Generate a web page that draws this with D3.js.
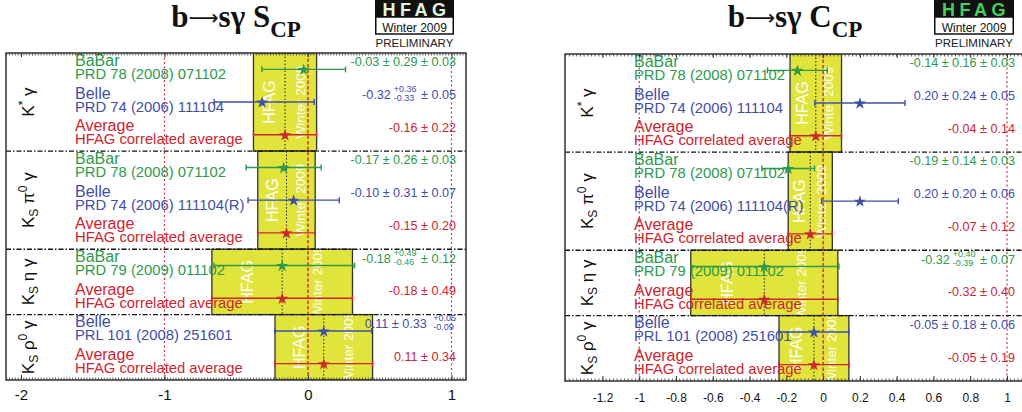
<!DOCTYPE html>
<html>
<head>
<meta charset="utf-8">
<script src="https://cdn.jsdelivr.net/npm/d3@7"></script>
<style>
  body { margin: 0; background: #fff; }
  svg { display: block; }
  text { font-family: "Liberation Sans", Arial, Helvetica, sans-serif; }
</style>
</head>
<body>
<svg id="chart" width="1022" height="412"></svg>
<script>
// ---- decay modes (rows) -------------------------------------------------
// each label is a list of [text, position] pieces: "" normal, "sup", "sub"
const modeParts = [
  [["K", ""], ["*", "sup"], [" γ", ""]],
  [["K", ""], ["S", "sub"], [" π", ""], ["0", "sup"], [" γ", ""]],
  [["K", ""], ["S", "sub"], [" η γ", ""]],
  [["K", ""], ["S", "sub"], [" ρ", ""], ["0", "sup"], [" γ", ""]]
];

// ---- measurements (one per line, top to bottom) --------------------------
const entryMode  = [0, 0, 0, 1, 1, 1, 2, 2, 3, 3];
const entryGroup = ["BaBar", "Belle", "Average", "BaBar", "Belle", "Average",
                    "BaBar", "Average", "Belle", "Average"];
const entryRef   = ["PRD 78 (2008) 071102", "PRD 74 (2006) 111104", "HFAG correlated average",
                    "PRD 78 (2008) 071102", "PRD 74 (2006) 111104(R)", "HFAG correlated average",
                    "PRD 79 (2009) 011102", "HFAG correlated average",
                    "PRL 101 (2008) 251601", "HFAG correlated average"];

// S_CP
const sCentral = [-0.03, -0.32, -0.16, -0.17, -0.10, -0.15, -0.18, -0.18, 0.11, 0.11];
const sStatUp  = [0.29, 0.36, 0.22, 0.26, 0.31, 0.20, 0.49, 0.49, 0.33, 0.34];
const sStatDn  = [0.29, 0.33, 0.22, 0.26, 0.31, 0.20, 0.46, 0.49, 0.33, 0.34];
const sSystUp  = [0.03, 0.05, null, 0.03, 0.07, null, 0.12, null, 0.05, null];
const sSystDn  = [0.03, 0.05, null, 0.03, 0.07, null, 0.12, null, 0.09, null];

// C_CP
const cCentral = [-0.14, 0.20, -0.04, -0.19, 0.20, -0.07, -0.32, -0.32, -0.05, -0.05];
const cStatUp  = [0.16, 0.24, 0.14, 0.14, 0.20, 0.12, 0.40, 0.40, 0.18, 0.19];
const cStatDn  = [0.16, 0.24, 0.14, 0.14, 0.20, 0.12, 0.39, 0.40, 0.18, 0.19];
const cSystUp  = [0.03, 0.05, null, 0.03, 0.06, null, 0.07, null, 0.06, null];
const cSystDn  = [0.03, 0.05, null, 0.03, 0.06, null, 0.07, null, 0.06, null];

// axis ticks
const sTicks = [-2, -1, 0, 1];
const cTicks = [-1.2, -1, -0.8, -0.6, -0.4, -0.2, 0, 0.2, 0.4, 0.6, 0.8, 1];
const refLines = [-1, 0, 1];

const groupColor = { BaBar: "#2c9a4c", Belle: "#3f4ea8", Average: "#cc2630" };
const boxFill = "#e1e43a";

const svg = d3.select("#chart");

const panels = [
  { key: "s", sym: "S", central: sCentral, statUp: sStatUp, statDn: sStatDn, systUp: sSystUp, systDn: sSystDn,
    frame: [6, 466], rows: [53, 380], x: d3.scaleLinear().domain([-2, 1]).range([21, 451.5]),
    ticks: sTicks, tickFont: 15, tickPad: 9.4, titleX: 236, logo: [375, 454], logoInk: "#e4f6e0" },
  { key: "c", sym: "C", central: cCentral, statUp: cStatUp, statDn: cStatDn, systUp: cSystUp, systDn: cSystDn,
    frame: [565, 1025], rows: [54, 381], x: d3.scaleLinear().domain([-1.2, 1]).range([602.5, 1007]),
    ticks: cTicks, tickFont: 12, tickPad: 12.5, titleX: 795, logo: [934, 1014], logoInk: "#46cf5c" }
];

const fmt = v => v.toFixed(2);
const quad = (a, b) => Math.sqrt(a * a + (b || 0) * (b || 0));

function drawTitle(p) {
  const t = svg.append("text")
    .attr("x", p.titleX).attr("y", 27)
    .attr("text-anchor", "middle")
    .style("font-family", "'Liberation Serif', 'Times New Roman', serif")
    .style("font-weight", "bold").style("font-size", "31px").attr("fill", "#111");
  t.append("tspan").text("b");
  t.append("tspan").style("font-family", "'DejaVu Sans', sans-serif").style("font-weight", "normal")
    .style("font-size", "21px").attr("dy", -2).text("⟶");
  t.append("tspan").attr("dy", 2).text("sγ " + p.sym);
  t.append("tspan").attr("dy", 10).style("font-size", "23px").text("CP");
}

function drawLogo(p) {
  const [x0, x1] = p.logo, w = x1 - x0;
  const g = svg.append("g");
  g.append("rect").attr("x", x0).attr("y", 0).attr("width", w).attr("height", 18).attr("fill", "#111");
  g.append("rect").attr("x", x0 + 0.75).attr("y", 17).attr("width", w - 1.5).attr("height", 17)
    .attr("fill", "#fff").attr("stroke", "#111").attr("stroke-width", 1.5);
  g.append("text").attr("x", x0 + w / 2 + 2).attr("y", 16)
    .attr("text-anchor", "middle").style("font-weight", "bold").style("font-size", "18px")
    .style("letter-spacing", "4.5px").attr("fill", p.logoInk).text("HFAG");
  g.append("text").attr("x", x0 + w / 2).attr("y", 31.5)
    .attr("text-anchor", "middle").style("font-size", "12px").attr("fill", "#111").text("Winter 2009");
  g.append("text").attr("x", x0 + w / 2).attr("y", 47)
    .attr("text-anchor", "middle").style("font-size", "11.5px").attr("fill", "#222").text("PRELIMINARY");
}

// value text like "-0.32 +0.36/-0.33 ± 0.05", right aligned at xr
function drawValue(g, xr, yb, p, i, color) {
  const pieces = [];
  const su = p.statUp[i], sd = p.statDn[i], yu = p.systUp[i], yd = p.systDn[i];
  if (su === sd) {
    pieces.push({ t: fmt(p.central[i]) + " ± " + fmt(su) });
  } else {
    pieces.push({ t: fmt(p.central[i]) });
    pieces.push({ up: "+" + fmt(su), dn: "-" + fmt(sd) });
  }
  if (yu !== null) {
    if (yu === yd) pieces.push({ t: " ± " + fmt(yu) });
    else { pieces.push({ t: " " }); pieces.push({ up: "+" + fmt(yu), dn: "-" + fmt(yd) }); }
  }
  const vg = g.append("g").attr("fill", color);
  let x = 0;
  pieces.forEach((pc, k) => {
    if (pc.t !== undefined) {
      const t = vg.append("text").attr("x", x).attr("y", yb)
        .style("font-size", "12.6px").style("white-space", "pre").text(pc.t);
      x += t.node().getComputedTextLength();
    } else {
      x += 3;
      const a = vg.append("text").attr("x", x).attr("y", yb - 7).style("font-size", "9px").text(pc.up);
      const b = vg.append("text").attr("x", x).attr("y", yb + 2).style("font-size", "9px").text(pc.dn);
      x += Math.max(a.node().getComputedTextLength(), b.node().getComputedTextLength());
      if (k < pieces.length - 1) x += 1;
    }
  });
  vg.attr("transform", `translate(${xr - x},0)`);
}

function drawPanel(p) {
  const x = p.x;
  const [fx0, fx1] = p.frame;
  const [ry0, ry1] = p.rows;
  const y = d3.scaleBand().domain(d3.range(entryMode.length)).range([ry0, ry1]);
  const g = svg.append("g");

  const clipId = "clip-" + p.key;
  svg.append("clipPath").attr("id", clipId)
    .append("rect").attr("x", fx0).attr("y", ry0).attr("width", fx1 - fx0).attr("height", ry1 - ry0);
  const plot = g.append("g").attr("clip-path", `url(#${clipId})`);

  // row extents per decay mode
  const rowsOf = modeParts.map((_, m) => {
    const idx = entryMode.map((mm, i) => mm === m ? i : -1).filter(i => i >= 0);
    return { m, idx, y0: y(idx[0]), y1: y(idx[idx.length - 1]) + y.bandwidth(),
             avg: idx.find(i => entryGroup[i] === "Average") };
  });

  // average bands
  rowsOf.forEach(r => {
    const a = r.avg;
    const bx0 = x(p.central[a] - p.statDn[a]), bx1 = x(p.central[a] + p.statUp[a]);
    const w = bx1 - bx0, yc = (r.y0 + r.y1) / 2;
    plot.append("rect").attr("x", bx0).attr("y", r.y0).attr("width", w).attr("height", r.y1 - r.y0)
      .attr("fill", boxFill).attr("stroke", "#333").attr("stroke-width", 1.3);
    const bid = `band-${p.key}-${r.m}`;
    svg.append("clipPath").attr("id", bid)
      .append("rect").attr("x", bx0).attr("y", r.y0).attr("width", w).attr("height", r.y1 - r.y0);
    const tg = plot.append("g").attr("clip-path", `url(#${bid})`).attr("fill", "#fff");
    tg.append("text").attr("transform", `translate(${bx0 + w / 4},${yc}) rotate(-90)`)
      .attr("text-anchor", "middle").attr("dominant-baseline", "central")
      .style("font-size", "16px").text("HFAG");
    tg.append("text").attr("transform", `translate(${bx0 + 3 * w / 4},${yc}) rotate(-90)`)
      .attr("text-anchor", "middle").attr("dominant-baseline", "central")
      .style("font-size", "13.5px").text("Winter 2009");
    plot.append("line").attr("x1", x(p.central[a])).attr("x2", x(p.central[a]))
      .attr("y1", r.y0).attr("y2", r.y1)
      .attr("stroke", "#222").attr("stroke-width", 1).attr("stroke-dasharray", "1.5,2");
  });

  // reference lines
  refLines.forEach(v => {
    plot.append("line").attr("x1", x(v)).attr("x2", x(v)).attr("y1", ry0).attr("y2", ry1)
      .attr("stroke", "#d2333c").attr("stroke-width", v === 0 ? 1.5 : 1.2)
      .attr("stroke-dasharray", v === 0 ? "3.5,2" : "2,2.5");
  });

  // mode labels
  rowsOf.forEach(r => {
    const t = g.append("text")
      .attr("transform", `translate(${fx0 + 28},${(r.y0 + r.y1) / 2}) rotate(-90)`)
      .attr("text-anchor", "middle").style("font-size", "17px").attr("fill", "#111");
    let shift = 0;
    modeParts[r.m].forEach(([s, pos]) => {
      const want = pos === "sup" ? -7 : pos === "sub" ? 4 : 0;
      t.append("tspan").attr("dy", want - shift)
        .style("font-size", pos ? "12px" : "17px").text(s);
      shift = want;
    });
  });

  // entry texts
  entryMode.forEach((m, i) => {
    const yc = y(i) + y.bandwidth() / 2;
    const col = groupColor[entryGroup[i]];
    g.append("text").attr("x", fx0 + 69).attr("y", yc - 3.5).attr("fill", col)
      .style("font-size", "16px").text(entryGroup[i]);
    g.append("text").attr("x", fx0 + 69).attr("y", yc + 9.5).attr("fill", col)
      .style("font-size", "14.8px").text(entryRef[i]);
    drawValue(g, fx0 + 450, yc - 3, p, i, col);
  });

  // error bars and stars
  entryMode.forEach((m, i) => {
    const yc = y(i) + y.bandwidth() / 2;
    const col = groupColor[entryGroup[i]];
    const lo = p.central[i] - quad(p.statDn[i], p.systDn[i]);
    const hi = p.central[i] + quad(p.statUp[i], p.systUp[i]);
    const eg = plot.append("g").attr("stroke", col).attr("stroke-width", 1.4);
    eg.append("line").attr("x1", x(lo)).attr("x2", x(hi)).attr("y1", yc).attr("y2", yc);
    [lo, hi].forEach(v => eg.append("line").attr("x1", x(v)).attr("x2", x(v))
      .attr("y1", yc - 3).attr("y2", yc + 3));
    plot.append("path").attr("d", d3.symbol(d3.symbolStar, 46)())
      .attr("transform", `translate(${x(p.central[i])},${yc + 0.5})`).attr("fill", col);
  });

  // separators between decay modes
  rowsOf.slice(1).forEach(r => {
    plot.append("line").attr("x1", fx0).attr("x2", fx1).attr("y1", r.y0).attr("y2", r.y0)
      .attr("stroke", "#111").attr("stroke-width", 1.4).attr("stroke-dasharray", "5,2,1.5,2");
  });

  // frame with fine ticks
  g.append("rect").attr("x", fx0).attr("y", ry0).attr("width", fx1 - fx0).attr("height", ry1 - ry0)
    .attr("fill", "none").attr("stroke", "#333").attr("stroke-width", 1.5);
  const d0 = x.invert(fx0), d1 = x.invert(fx1);
  const minor = d3.range(Math.ceil(d0 / 0.02), Math.floor(d1 / 0.02) + 1).map(k => k * 0.02);
  const tg = g.append("g").attr("stroke", "#333").attr("stroke-width", 0.8);
  minor.forEach(v => {
    tg.append("line").attr("x1", x(v)).attr("x2", x(v)).attr("y1", ry0).attr("y2", ry0 + 2.5);
    tg.append("line").attr("x1", x(v)).attr("x2", x(v)).attr("y1", ry1).attr("y2", ry1 - 2.5);
  });

  // bottom axis labels and major ticks
  const axis = d3.axisBottom(x).tickValues(p.ticks).tickFormat(d => String(d))
    .tickSizeInner(-5).tickSizeOuter(0).tickPadding(p.tickPad);
  const ag = g.append("g").attr("transform", `translate(0,${ry1})`).call(axis);
  ag.select(".domain").remove();
  ag.selectAll(".tick line").attr("stroke", "#333").attr("stroke-width", 1);
  ag.selectAll(".tick text").attr("fill", "#111")
    .style("font-size", p.tickFont + "px").style("font-family", "'Liberation Sans', Arial, sans-serif");
  g.append("g").attr("transform", `translate(0,${ry0})`)
    .call(d3.axisTop(x).tickValues(p.ticks).tickFormat("").tickSizeInner(-4).tickSizeOuter(0))
    .call(s => s.select(".domain").remove())
    .selectAll(".tick line").attr("stroke", "#333");

  drawTitle(p);
  drawLogo(p);
}

panels.forEach(drawPanel);
</script>
</body>
</html>
